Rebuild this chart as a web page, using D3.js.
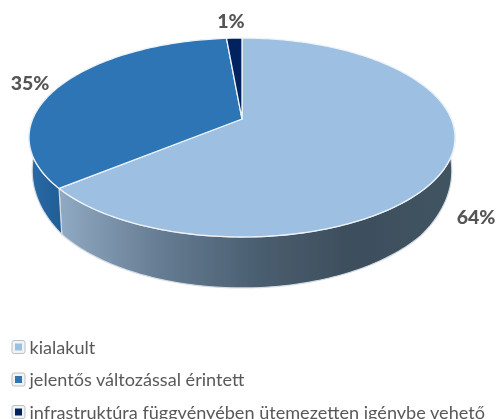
<!DOCTYPE html>
<html>
<head>
<meta charset="utf-8">
<script src="https://cdn.jsdelivr.net/npm/d3@7/dist/d3.min.js"></script>
<style>
	html, body { margin: 0; padding: 0; background: #fff; overflow: hidden; }
	text { font-family: Lato, "Open Sans", sans-serif; }
</style>
</head>
<body>
<div id="chart-area"></div>
<script>
// Data
const categories = ["kialakult", "jelentős változással érintett", "infrastruktúra függvényében ütemezetten igénybe vehető"];
const values = [64, 34.6, 1.4];
const labels = ["64%", "35%", "1%"];
const topColors = ["#9dc0e2", "#2e75b6", "#00205f"];
const labelAnchors = [[476, 217], [30, 83], [231, 21]];

const width = 497, height = 419;

let svg = d3.select("#chart-area").append("svg")
	.attr("width", width)
	.attr("height", height);

let defs = svg.append("defs");
defs.append("filter").attr("id", "soft")
	.append("feGaussianBlur").attr("stdDeviation", 0.55);
defs.append("filter").attr("id", "soft-text")
	.append("feGaussianBlur").attr("stdDeviation", 0.35);

// Wall shading of the big slice
let wallGrad = defs.append("linearGradient").attr("id", "wall-big")
	.attr("gradientUnits", "userSpaceOnUse")
	.attr("x1", 61).attr("x2", 456).attr("y1", 0).attr("y2", 0);
[[0, "#8fa9c2"], [0.25, "#667c92"], [0.5, "#4a5e70"], [0.72, "#3e4f5d"], [1, "#3f5361"]].forEach(s => {
	wallGrad.append("stop").attr("offset", s[0]).attr("stop-color", s[1]);
});
let wallGrad2 = defs.append("linearGradient").attr("id", "wall-mid")
	.attr("gradientUnits", "userSpaceOnUse")
	.attr("x1", 30).attr("x2", 65).attr("y1", 0).attr("y2", 0);
wallGrad2.append("stop").attr("offset", 0).attr("stop-color", "#2a6aa6");
wallGrad2.append("stop").attr("offset", 1).attr("stop-color", "#1f5c94");

// Tilted disc: perspective projection of a unit circle
const cx = 242, apexY = 119, tiltA = 73.9, tiltC = -0.186, radius = 209.3;
const wallY = d3.scaleLinear().domain([137, 189, 237]).range([170, 235, 288]);

function projectTop(r, a) {
	let u = r * Math.sin(a), v = -r * Math.cos(a);
	let w = 1 + tiltC * v;
	return [cx + radius * u / w, (tiltA * v + apexY) / w];
}
function projectBottom(a) {
	let p = projectTop(1, a);
	return [cx + (p[0] - cx) * 0.985, wallY(p[1])];
}

let pie = d3.pie().sort(null)(values);
let line = d3.line();

function arcPoints(a0, a1, fn) {
	let n = Math.max(2, Math.ceil(Math.abs(a1 - a0) / 0.02));
	return d3.range(n + 1).map(i => fn(a0 + (a1 - a0) * i / n));
}

let chart = svg.append("g").attr("filter", "url(#soft)");

let wallStart = Math.PI * 0.4, wallEnd = Math.PI * 1.6;

// Walls, only where they face the viewer
const wallFills = ["url(#wall-big)", "url(#wall-mid)", "#00205f"];
pie.forEach((d, i) => {
	let a0 = Math.max(d.startAngle, wallStart), a1 = Math.min(d.endAngle, wallEnd);
	if (a1 <= a0) return;
	let pts = arcPoints(a0, a1, a => projectTop(1, a))
		.concat(arcPoints(a1, a0, projectBottom));
	chart.append("path")
		.attr("d", line(pts) + "Z")
		.attr("fill", wallFills[i])
		.attr("stroke", "#d4dbe2")
		.attr("stroke-width", 1.2);
});

// Top faces
pie.forEach((d, i) => {
	let pts = [projectTop(0, 0)].concat(arcPoints(d.startAngle, d.endAngle, a => projectTop(1, a)));
	chart.append("path")
		.attr("d", line(pts) + "Z")
		.attr("fill", topColors[i])
		.attr("stroke", "#eef3f8")
		.attr("stroke-width", 1.3)
		.attr("stroke-linejoin", "round");
});

// Percent labels
svg.append("g").attr("filter", "url(#soft-text)").selectAll("text")
	.data(labels)
	.enter()
	.append("text")
	.attr("x", (d, i) => labelAnchors[i][0])
	.attr("y", (d, i) => labelAnchors[i][1])
	.attr("dy", "0.36em")
	.attr("text-anchor", "middle")
	.attr("font-size", 19.5)
	.attr("font-weight", 900)
	.attr("fill", "#555")
	.text(d => d);

// Legend
const legendY = d3.scaleLinear().domain([0, 1]).range([347, 379.5]);
let legend = svg.append("g").attr("filter", "url(#soft-text)").selectAll("g")
	.data(categories)
	.enter()
	.append("g")
	.attr("transform", (d, i) => "translate(0," + legendY(i) + ")");

legend.append("rect")
	.attr("x", 12).attr("y", -6.5).attr("width", 13).attr("height", 13).attr("rx", 2)
	.attr("fill", "#f2f3f5").attr("stroke", "#bbc0c5");
legend.append("rect")
	.attr("x", 15).attr("y", -3.5).attr("width", 7).attr("height", 7)
	.attr("fill", (d, i) => topColors[i]);
legend.append("text")
	.attr("x", 29.5).attr("y", 0).attr("dy", "0.36em")
	.attr("font-size", 18.1)
	.attr("fill", "#595959")
	.text(d => d);
</script>
</body>
</html>
